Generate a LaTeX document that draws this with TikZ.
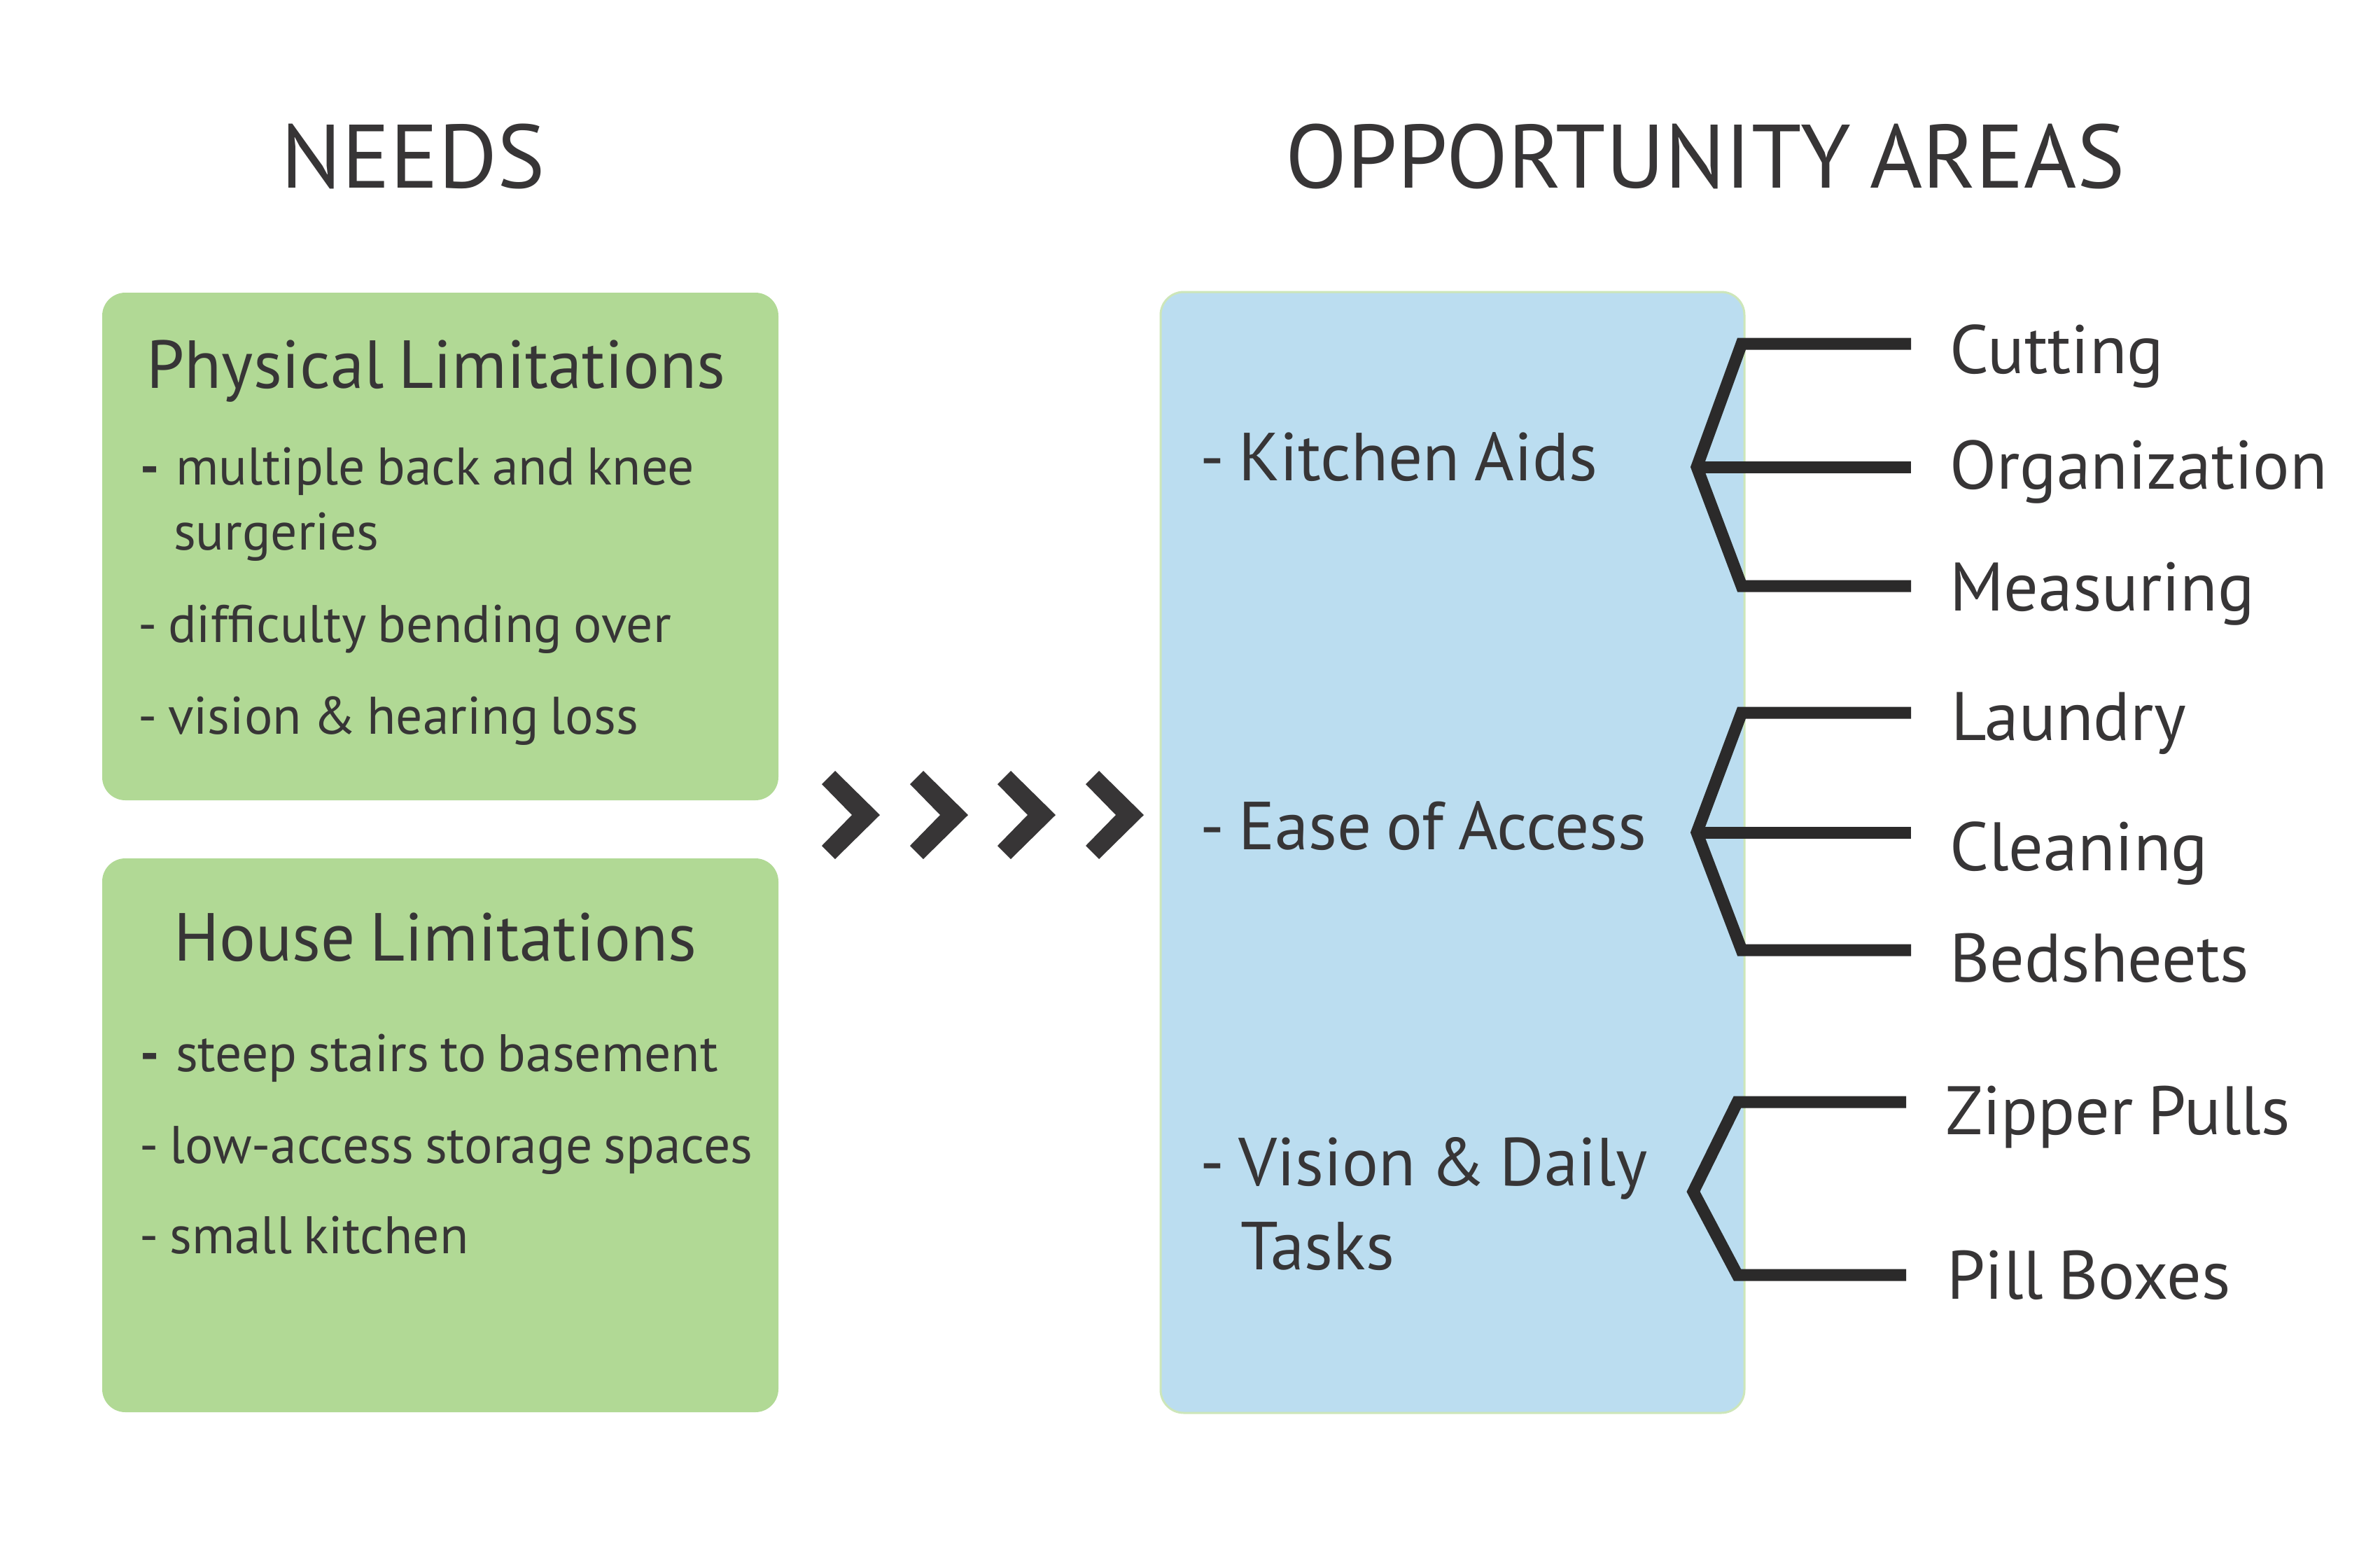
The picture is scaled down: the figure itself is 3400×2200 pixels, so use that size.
\documentclass[tikz,border=0pt]{standalone}
\usepackage{fontspec}
\setmainfont[WordSpace=0.8]{PT Sans}
\definecolor{ink}{RGB}{55,53,54}
\definecolor{linecol}{RGB}{43,42,42}
\definecolor{needfill}{RGB}{177,217,149}
\definecolor{oppfill}{RGB}{187,221,240}
\definecolor{oppedge}{RGB}{205,230,185}

\begin{document}
\begin{tikzpicture}[x=0.1mm,y=-0.1mm,
  every node/.style={inner sep=0pt, outer sep=0pt, text=ink},
  heading/.style={font=\fontsize{36.6}{40}\selectfont, anchor=base},
  boxtitle/.style={font=\fontsize{27.6}{32}\selectfont, anchor=base},
  item/.style={font=\fontsize{21.5}{25}\selectfont, anchor=base west},
  area/.style={font=\fontsize{27.6}{32}\selectfont, anchor=base west},
  leaf/.style={font=\fontsize{27.9}{32}\selectfont, anchor=base west},
  needbox/.style={fill=needfill, draw=none, rounded corners=3.3mm, minimum width=96.6mm},
  oppbox/.style={fill=oppfill, draw=oppedge, line width=0.85pt, rounded corners=3.3mm, minimum width=83.4mm},
  branch/.style={draw=linecol, line width=1.7mm, line join=miter, miter limit=1.5},
  chevron/.pic={\fill[ink] (0,-44) -- (19,-63) -- (83,0) -- (19,63) -- (0,44) -- (43,0) -- cycle;}
]
\useasboundingbox (0,0) rectangle (3400,2200);

% column headings
\node[heading] (needs) at (590,268) {NEEDS};
\node[heading] (opp) at (2436,268) {OPPORTUNITY AREAS};

% panels
\node[needbox, minimum height=72.5mm] (phys) at (629,780.5) {};
\node[needbox, minimum height=79.1mm] (house) at (629,1621.5) {};
\node[oppbox, minimum height=160.1mm] (areas) at (2075,1217.5) {};

% physical limitations
\node[boxtitle] (physT) at (623,554) {Physical Limitations};
\node[item] (p1dash) at (200,692) {\textbf{-}};
\node[item] (p1) at (251,692) {multiple back and knee};
\node[item] (p1b) at (248,785) {surgeries};
\node[item] (p2) at (197,917) {- difficulty bending over};
\node[item] (p3) at (197,1048) {- vision \& hearing loss};

% house limitations
\node[boxtitle] (houseT) at (622,1372) {House Limitations};
\node[item] (h1dash) at (200,1530) {\textbf{-}};
\node[item] (h1) at (251,1530) {steep stairs to basement};
\node[item] (h2) at (199,1661) {- low-access storage spaces};
\node[item] (h3) at (199,1790) {- small kitchen};

% chevron arrow between the columns
\foreach \i/\x in {1/1174,2/1300,3/1425,4/1551}
  \pic (chev\i) at (\x,1164) {chevron};

% opportunity areas
\node[area] (kitchen) at (1714,686) {- Kitchen Aids};
\node[area] (ease) at (1714,1213) {- Ease of Access};
\node[area] (vision) at (1714,1693) {- Vision \& Daily};
\node[area] (tasks) at (1772,1813) {Tasks};

% sub-topics
\node[leaf] (cut) at (2785,533) {Cutting};
\node[leaf] (org) at (2785,698) {Organization};
\node[leaf] (meas) at (2785,872) {Measuring};
\node[leaf] (laun) at (2787,1057) {Laundry};
\node[leaf] (clean) at (2785,1243) {Cleaning};
\node[leaf] (bed) at (2785,1402) {Bedsheets};
\node[leaf] (zip) at (2779,1620) {Zipper Pulls};
\node[leaf] (pill) at (2781,1855) {Pill Boxes};

% bracket points
\coordinate (kv) at (2424,667);
\coordinate (k1) at (2488,491);  \coordinate (k1e) at (2730,491);
\coordinate (k2e) at (2730,667);
\coordinate (k3) at (2488,837);  \coordinate (k3e) at (2730,837);

\coordinate (ev) at (2424,1189);
\coordinate (e1) at (2488,1018); \coordinate (e1e) at (2730,1018);
\coordinate (e2e) at (2730,1189);
\coordinate (e3) at (2488,1357); \coordinate (e3e) at (2730,1357);

\coordinate (vv) at (2419,1702);
\coordinate (v1) at (2482,1574); \coordinate (v1e) at (2723,1574);
\coordinate (v3) at (2482,1821); \coordinate (v3e) at (2723,1821);

% brackets
\draw[branch] (k1e) -- (k1) -- (kv) -- (k3) -- (k3e);
\draw[branch] (kv) -- (k2e);
\draw[branch] (e1e) -- (e1) -- (ev) -- (e3) -- (e3e);
\draw[branch] (ev) -- (e2e);
\draw[branch] (v1e) -- (v1) -- (vv) -- (v3) -- (v3e);
\end{tikzpicture}
\end{document}
